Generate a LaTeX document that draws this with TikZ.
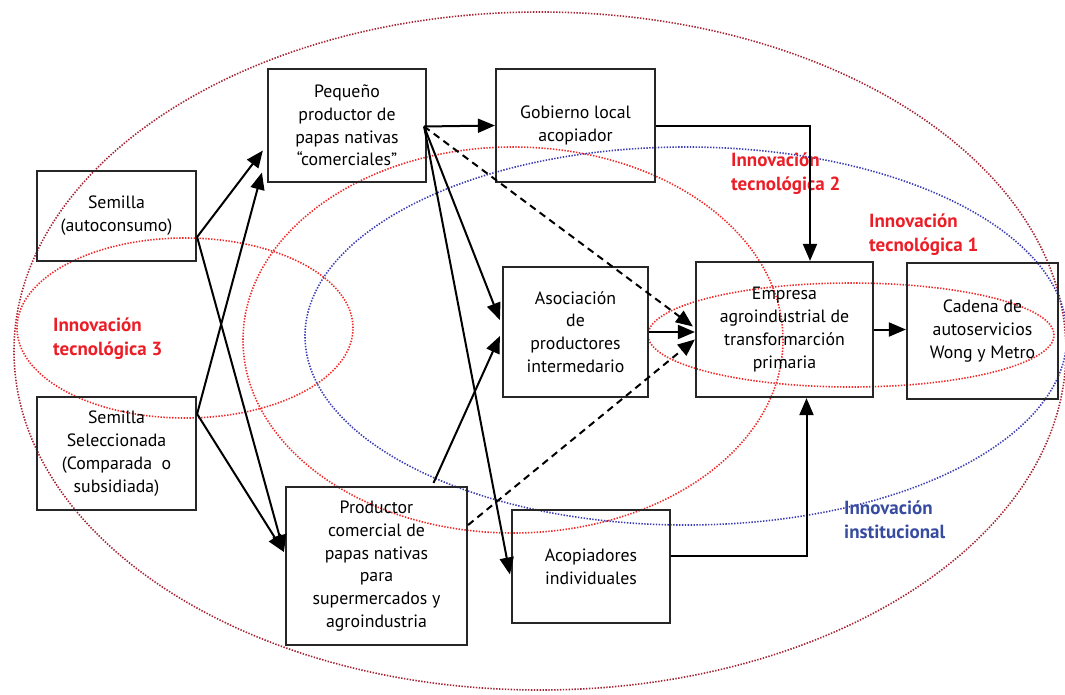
\documentclass[tikz,border=0pt]{standalone}
\usepackage{fontspec}
\setmainfont{PT Sans}
\usetikzlibrary{arrows.meta,calc}
\definecolor{outerred}{RGB}{165,35,50}
\definecolor{dotred}{RGB}{240,40,40}
\definecolor{dotblue}{RGB}{60,60,180}
\definecolor{labred}{RGB}{235,30,40}
\definecolor{labblue}{RGB}{55,75,160}
\begin{document}
\begin{tikzpicture}[x=1pt,y=-1pt,
  box/.style={draw=black!85, line width=2.2pt, align=center, inner sep=0pt,
    font=\fontsize{17.8}{22.8}\selectfont},
  arr/.style={line width=2pt, -{Triangle[length=17pt,width=14pt]}},
  dasharr/.style={arr, dash pattern=on 7pt off 5pt},
  zone/.style={line width=1.6pt, dash pattern=on 1.4pt off 1.5pt},
  tag/.style={font=\bfseries\fontsize{19}{24}\selectfont, align=left,
    anchor=west, inner sep=0pt}]

\useasboundingbox (0,0) rectangle (1065,694);

% innovation zones
\draw[zone, outerred] (540,351) ellipse [x radius=526pt, y radius=339pt];
\draw[zone, dotred]   (513,340) ellipse [x radius=270pt, y radius=193pt];
\draw[zone, dotblue]  (686,336) ellipse [x radius=381pt, y radius=189pt];
\draw[zone, dotred]   (185,328) ellipse [x radius=168pt, y radius=90pt];
\draw[zone, dotred]   (851,335) ellipse [x radius=203pt, y radius=52pt];

% actors
\node[box, minimum width=159pt, minimum height=90pt]  (sa) at (116.5,216)   {Semilla\\(autoconsumo)};
\node[box, minimum width=159pt, minimum height=113pt] (ss) at (116.5,453.5) {Semilla\\Seleccionada\\(Comparada~ o\\subsidiada)};
\node[box, minimum width=158pt, minimum height=113pt] (pp) at (347,125.5)   {Pequeño\\productor de\\papas nativas\\“comerciales”};
\node[box, minimum width=159pt, minimum height=113pt] (gl) at (575.5,125.5) {Gobierno local\\acopiador};
\node[box, minimum width=145pt, minimum height=130pt] (as) at (575.5,332)   {Asociación\\de\\productores\\intermedario};
\node[box, minimum width=177pt, minimum height=135pt] (em) at (784.5,329.5) {Empresa\\agroindustrial de\\transformarción\\primaria};
\node[box, minimum width=151pt, minimum height=136pt] (cw) at (982.5,331)   {Cadena de\\autoservicios\\Wong y Metro};
\node[box, minimum width=181pt, minimum height=158pt] (pc) at (376.5,566)   {Productor\\comercial de\\papas nativas\\para\\supermercados y\\agroindustria};
\node[box, minimum width=158pt, minimum height=113pt] (ai) at (591,566.5)   {Acopiadores\\individuales};

% zone labels
\node[tag, text=labred]  (t3) at (53,339)   {Innovación\\tecnológica 3};
\node[tag, text=labred]  (t2) at (731,174)  {Innovación\\tecnológica 2};
\node[tag, text=labred]  (t1) at (869,234.5){Innovación\\tecnológica 1};
\node[tag, text=labblue] (ti) at (844,519.5){Innovación\\institucional};

% seed flows
\draw[arr] ($(sa.east)+(0,21)$) -- ($(pp.west)+(-4,25)$);
\draw[arr] ($(sa.east)+(0,21)$) -- ($(pc.west)+(-1,-14)$);
\draw[arr] ($(ss.north east)+(0,18)$) -- ($(pp.west)+(-5,47)$);
\draw[arr] ($(ss.north east)+(0,18)$) -- ($(pc.west)+(-1,-14)$);

% small producer flows
\draw[arr] ($(pp.east)+(-3,1)$) -- (gl.west);
\draw[arr] ($(pp.east)+(-3,1)$) -- ($(as.west)+(-2,-12)$);
\draw[arr] ($(pp.east)+(-3,1)$) -- ($(ai.west)+(-1,8)$);
\draw[dasharr] ($(pp.east)+(-3,1)$) -- ($(em.west)+(-2,-3)$);

% commercial producer flows
\draw[arr] ($(pc.north)+(57,-3)$) -- ($(as.west)+(-2,4)$);
\draw[dasharr] ($(pc.east)+(0,-41)$) -- ($(em.west)+(0,10)$);

% towards the processing company and the retail chain
\draw[arr] (as.east) -- (as.east -| em.west);
\draw[arr] (gl.east) -| ($(em.north)+(25.5,0)$);
\draw[arr] ($(ai.east)+(0,-11)$) -| ($(em.south)+(22,0)$);
\draw[arr] (em.east) -- (em.east -| cw.west);

\end{tikzpicture}
\end{document}
